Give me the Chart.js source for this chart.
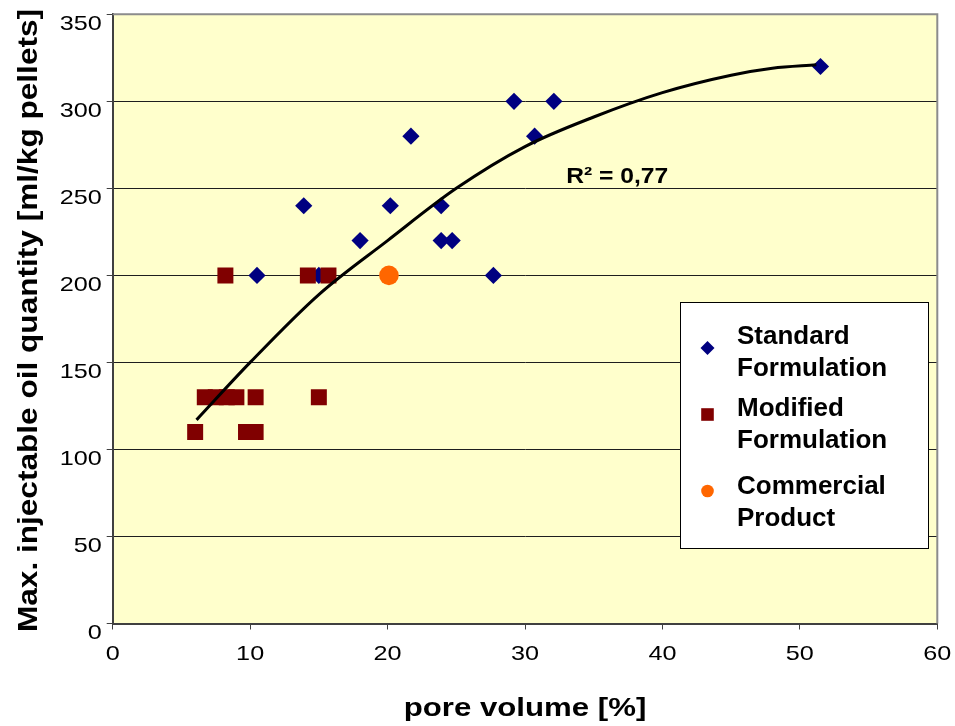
<!DOCTYPE html>
<html>
<head>
<meta charset="utf-8">
<script src="https://cdn.jsdelivr.net/npm/chart.js@4.4.0/dist/chart.umd.min.js"></script>
<style>
  html, body { margin: 0; padding: 0; background: #fff; }
  canvas { display: block; }
</style>
</head>
<body>
<canvas id="chart" width="955" height="726"></canvas>
<script>
// tick labels
const xTicks = [0, 10, 20, 30, 40, 50, 60];
const yTicks = [0, 50, 100, 150, 200, 250, 300, 350];

// Standard Formulation
const standardX = [13.9, 20.2, 23.9, 18.0, 23.9, 24.7, 10.5, 15.0, 27.7, 29.2, 32.1, 30.7, 21.7, 51.5];
const standardY = [240, 240, 240, 220, 220, 220, 200, 200, 200, 300, 300, 280, 280, 320];

// Modified Formulation
const modifiedX = [8.2, 14.2, 15.7, 6.7, 7.5, 8.3, 9.0, 10.4, 15.0, 6.0, 9.7, 10.4];
const modifiedY = [200, 200, 200, 130, 130, 130, 130, 130, 130, 110, 110, 110];

// Commercial Product
const commercialX = [20.1];
const commercialY = [200];

// trend line
const trendX = [6.1, 10, 15, 20, 25, 30, 35, 40, 45, 48, 51.2];
const trendY = [117, 150, 189, 220, 250, 274, 291, 305, 315, 319, 321];

const seriesNames = ['Standard Formulation', 'Modified Formulation', 'Commercial Product'];
const rSquaredLabel = 'R² = 0,77';
const xTitle = 'pore volume [%]';
const yTitle = 'Max. injectable oil quantity [ml/kg pellets]';

const FONT = 'Arial, "Liberation Sans", sans-serif';
const toPoints = (xs, ys) => xs.map((x, i) => ({ x: x, y: ys[i] }));

function drawText(ctx, text, x, y, opts) {
  ctx.save();
  ctx.translate(x, y);
  if (opts.rotate) ctx.rotate(opts.rotate);
  ctx.scale(opts.sx || 1, 1);
  ctx.font = opts.font;
  ctx.fillStyle = '#000';
  ctx.textAlign = opts.align || 'left';
  ctx.textBaseline = opts.baseline || 'alphabetic';
  ctx.fillText(text, 0, 0);
  ctx.restore();
}

function drawMarker(ctx, style, color, x, y, size) {
  ctx.save();
  ctx.fillStyle = color;
  ctx.beginPath();
  if (style === 'rectRot') {
    ctx.moveTo(x, y - size);
    ctx.lineTo(x + size, y);
    ctx.lineTo(x, y + size);
    ctx.lineTo(x - size, y);
    ctx.closePath();
  } else if (style === 'rect') {
    ctx.rect(x - size, y - size, size * 2, size * 2);
  } else {
    ctx.arc(x, y, size, 0, Math.PI * 2);
  }
  ctx.fill();
  ctx.restore();
}

const legendItems = [
  { lines: ['Standard', 'Formulation'], style: 'rectRot', color: '#000080', size: 7, markerY: 45.5, textY: 41 },
  { lines: ['Modified', 'Formulation'], style: 'rect', color: '#800000', size: 6.3, markerY: 112, textY: 113.5 },
  { lines: ['Commercial', 'Product'], style: 'circle', color: '#FF6600', size: 6.3, markerY: 188.5, textY: 191 }
];

const plotDecor = {
  id: 'plotDecor',
  beforeDraw(chart) {
    const { ctx, chartArea: a } = chart;
    ctx.save();
    ctx.fillStyle = '#fff';
    ctx.fillRect(0, 0, chart.width, chart.height);
    ctx.fillStyle = '#FFFFCC';
    ctx.fillRect(a.left, a.top, a.right - a.left, a.bottom - a.top);
    ctx.restore();
  },
  afterDraw(chart) {
    const { ctx, chartArea: a, scales } = chart;

    // grey frame on top and right
    ctx.save();
    ctx.strokeStyle = '#8c8c8c';
    ctx.lineWidth = 2;
    ctx.beginPath();
    ctx.moveTo(a.left, a.top);
    ctx.lineTo(a.right, a.top);
    ctx.lineTo(a.right, a.bottom);
    ctx.stroke();
    ctx.restore();

    // tick labels
    const tickFont = '21px ' + FONT;
    scales.y.ticks.forEach(t => {
      drawText(ctx, String(t.value), a.left - 11, scales.y.getPixelForValue(t.value) + 10,
        { font: tickFont, align: 'right', baseline: 'middle', sx: 1.2 });
    });
    scales.x.ticks.forEach(t => {
      drawText(ctx, String(t.value), scales.x.getPixelForValue(t.value), a.bottom + 31,
        { font: tickFont, align: 'center', baseline: 'middle', sx: 1.2 });
    });

    // axis titles
    drawText(ctx, xTitle, (a.left + a.right) / 2, 716,
      { font: 'bold 26px ' + FONT, align: 'center', sx: 1.2 });
    drawText(ctx, yTitle, 37, 320.5,
      { font: 'bold 27px ' + FONT, align: 'center', rotate: -Math.PI / 2, sx: 1.17 });

    // R² annotation
    drawText(ctx, rSquaredLabel, scales.x.getPixelForValue(33), scales.y.getPixelForValue(253),
      { font: 'bold 22px ' + FONT, sx: 1.12 });

    // legend box
    const boxW = 248, boxH = 246;
    const bx = Math.round(a.right - 9.5 - boxW) + 0.5;
    const by = Math.round(a.top + 288) + 0.5;
    ctx.save();
    ctx.fillStyle = '#fff';
    ctx.fillRect(bx, by, boxW, boxH);
    ctx.strokeStyle = '#000';
    ctx.lineWidth = 1;
    ctx.strokeRect(bx, by, boxW, boxH);
    ctx.restore();
    legendItems.forEach(item => {
      drawMarker(ctx, item.style, item.color, bx + 27, by + item.markerY, item.size);
      item.lines.forEach((line, j) => {
        drawText(ctx, line, bx + 56.5, by + item.textY + j * 32, { font: 'bold 26px ' + FONT });
      });
    });
  }
};

const chart = new Chart(document.getElementById('chart'), {
  type: 'scatter',
  data: {
    datasets: [
      {
        label: 'trend',
        type: 'line',
        data: toPoints(trendX, trendY),
        borderColor: '#000',
        borderWidth: 3,
        pointRadius: 0,
        fill: false,
        cubicInterpolationMode: 'monotone',
        order: 0
      },
      {
        label: seriesNames[1],
        data: toPoints(modifiedX, modifiedY),
        pointStyle: 'rect',
        pointRadius: 11.3,
        backgroundColor: '#800000',
        borderWidth: 0,
        order: 1
      },
      {
        label: seriesNames[2],
        data: toPoints(commercialX, commercialY),
        pointStyle: 'circle',
        pointRadius: 9.8,
        backgroundColor: '#FF6600',
        borderWidth: 0,
        order: 1
      },
      {
        label: seriesNames[0],
        data: toPoints(standardX, standardY),
        pointStyle: 'rectRot',
        pointRadius: 8.6,
        backgroundColor: '#000080',
        borderWidth: 0,
        order: 2
      }
    ]
  },
  options: {
    responsive: false,
    devicePixelRatio: 1,
    animation: false,
    layout: { padding: { top: 14.3, right: 17.7, left: 0, bottom: 0 } },
    plugins: {
      legend: { display: false },
      tooltip: { enabled: false }
    },
    scales: {
      x: {
        type: 'linear',
        min: 0,
        max: 60,
        afterBuildTicks: scale => { scale.ticks = xTicks.map(v => ({ value: v })); },
        afterFit: scale => { scale.height = 102.5; },
        ticks: { display: false },
        grid: { drawOnChartArea: false, drawTicks: true, tickLength: 6, tickColor: '#404040' },
        border: { color: '#404040', width: 2 }
      },
      y: {
        type: 'linear',
        min: 0,
        max: 350,
        afterBuildTicks: scale => { scale.ticks = yTicks.map(v => ({ value: v })); },
        afterFit: scale => { scale.width = 112.7; },
        ticks: { display: false },
        grid: {
          color: ctx => (ctx.tick && ctx.tick.value === 350) ? 'rgba(0,0,0,0)' : '#1e1e1e',
          lineWidth: 1,
          drawTicks: true,
          tickLength: 6,
          tickColor: '#404040'
        },
        border: { color: '#404040', width: 2 }
      }
    }
  },
  plugins: [plotDecor]
});
</script>
</body>
</html>
